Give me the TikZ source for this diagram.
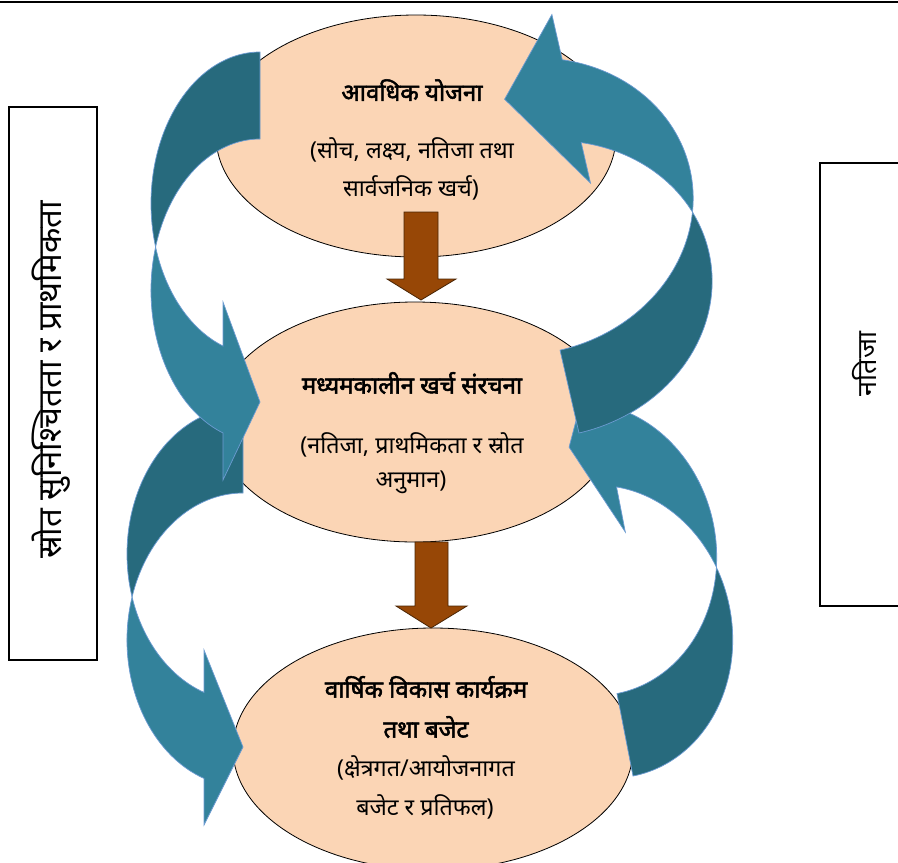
\documentclass[tikz,border=0pt]{standalone}
\usepackage{fontspec}
\newfontfamily\devs[Script=Devanagari]{Noto Sans}
\newfontfamily\devb[Script=Devanagari,FakeBold=2.2]{Noto Sans}
\usetikzlibrary{shapes.geometric}
\definecolor{peach}{HTML}{FBD5B5}
\definecolor{tealA}{HTML}{33829B}
\definecolor{tealB}{HTML}{276A7D}
\definecolor{tealline}{HTML}{6C9BD2}
\definecolor{brownfill}{HTML}{974706}
\definecolor{brownline}{HTML}{4A2505}
% #1 Rx, #2 Ry, #3 thickness, #4 head base offset, #5 barb1, #6 barb2, #7 tip x, #8 tip y
\newcommand\curvarrow[8]{%
  \pgfmathsetmacro\cA{asin((#3)/(2*(#2)))}%
  \pgfmathsetmacro\cG{acos((#4)/(#1))}%
  \pgfmathsetmacro\cXc{-(#1)*cos(\cA)}%
  \pgfmathsetmacro\cYc{(#2)+(#3)/2}%
  \pgfmathsetmacro\cYn{(#2)+(#2)*sin(\cG)}%
  \filldraw[fill=tealB, draw=tealline, line width=0.7pt] (0,0)
    arc[start angle=270, end angle={180-\cA}, x radius=#1, y radius=#2]
    arc[start angle={180+\cA}, end angle=270, x radius=#1, y radius=#2] -- cycle;
  \filldraw[fill=tealA, draw=tealline, line width=0.7pt] (\cXc,\cYc)
    arc[start angle={180+\cA}, end angle={180-\cG}, x radius=#1, y radius=#2]
    -- (-#4,#6) -- (#7,#8) -- (-#4,#5) -- (-#4,\cYn)
    arc[start angle={180-\cG}, end angle={180-\cA}, x radius=#1, y radius=#2] -- cycle;
}
\tikzset{
  oval/.style={ellipse, draw=black, line width=0.8pt, fill=peach, inner sep=0pt, minimum width=400pt},
  ttl/.style={font=\devb\fontsize{24}{28}\selectfont, inner sep=0pt},
  body/.style={font=\devs\fontsize{23.3}{28}\selectfont, inner sep=0pt},
  side/.style={font=\devs\fontsize{27}{30}\selectfont, inner sep=0pt, rotate=90},
  sidebox/.style={draw=black, line width=1.1pt},
  brownarr/.style={fill=brownfill, draw=brownline, line width=0.8pt},
}
\begin{document}
\begin{tikzpicture}[x=1pt,y=-1pt]
\useasboundingbox (0,0) rectangle (898,863);
\clip (0,0) rectangle (898,863);
\fill[white] (0,0) rectangle (898,863);
\draw[line width=2.8pt] (0,2) -- (898,2);

% side boxes
\draw[sidebox] (9,107) rectangle (97,660);
\node[side, font=\devs\fontsize{33}{36}\selectfont] (lt) at (51,380) {स्रोत सुनिश्चितता र प्राथमिकता};
\draw[sidebox] (820,163) rectangle (910,606);
\node[side] (rt) at (865,364) {नतिजा};

% ellipses
\node[oval, minimum height=242pt] (e1) at (416,136) {};
\node[oval, minimum height=240pt] (e2) at (415,422) {};
\node[oval, minimum height=242pt] (e3) at (433,749) {};

% brown arrows
\draw[brownarr] (404,212) -- (438,212) -- (438,279) -- (456,279) -- (421,300) -- (387,279) -- (404,279) -- cycle;
\draw[brownarr] (415,542) -- (448,542) -- (448,606) -- (467,606) -- (431,628) -- (396,606) -- (415,606) -- cycle;

% curved arrows
\begin{scope}[shift={(243,407)}]
  \curvarrow{116}{147}{86}{39}{243}{418}{0}{340}
\end{scope}
\begin{scope}[shift={(260,52)}]
  \curvarrow{109}{151.5}{87}{37}{250}{428}{0}{350}
\end{scope}
\begin{scope}[shift={(633,776)}, rotate=191]
  \curvarrow{127}{147}{84}{39}{241}{416}{0}{335}
\end{scope}
\begin{scope}[shift={(579,433)}, rotate=192.9]
  \curvarrow{167}{147.5}{85}{67}{241}{414}{-2}{342}
\end{scope}

% texts
\node[ttl] (t1) at (412,90) {आवधिक योजना};
\node[body] (t1a) at (412,150) {(सोच, लक्ष्य, नतिजा तथा};
\node[body] (t1b) at (411,188) {सार्वजनिक खर्च)};
\node[ttl] (t2) at (412,383) {मध्यमकालीन खर्च संरचना};
\node[body] (t2a) at (412,445) {(नतिजा, प्राथमिकता र स्रोत};
\node[body] (t2b) at (411,482) {अनुमान)};
\node[ttl] (t3) at (426,687) {वार्षिक विकास कार्यक्रम};
\node[ttl] (t3a) at (426,727) {तथा बजेट};
\node[body] (t3b) at (426,768) {(क्षेत्रगत/आयोजनागत};
\node[body] (t3c) at (425,807) {बजेट र प्रतिफल)};
\end{tikzpicture}
\end{document}
